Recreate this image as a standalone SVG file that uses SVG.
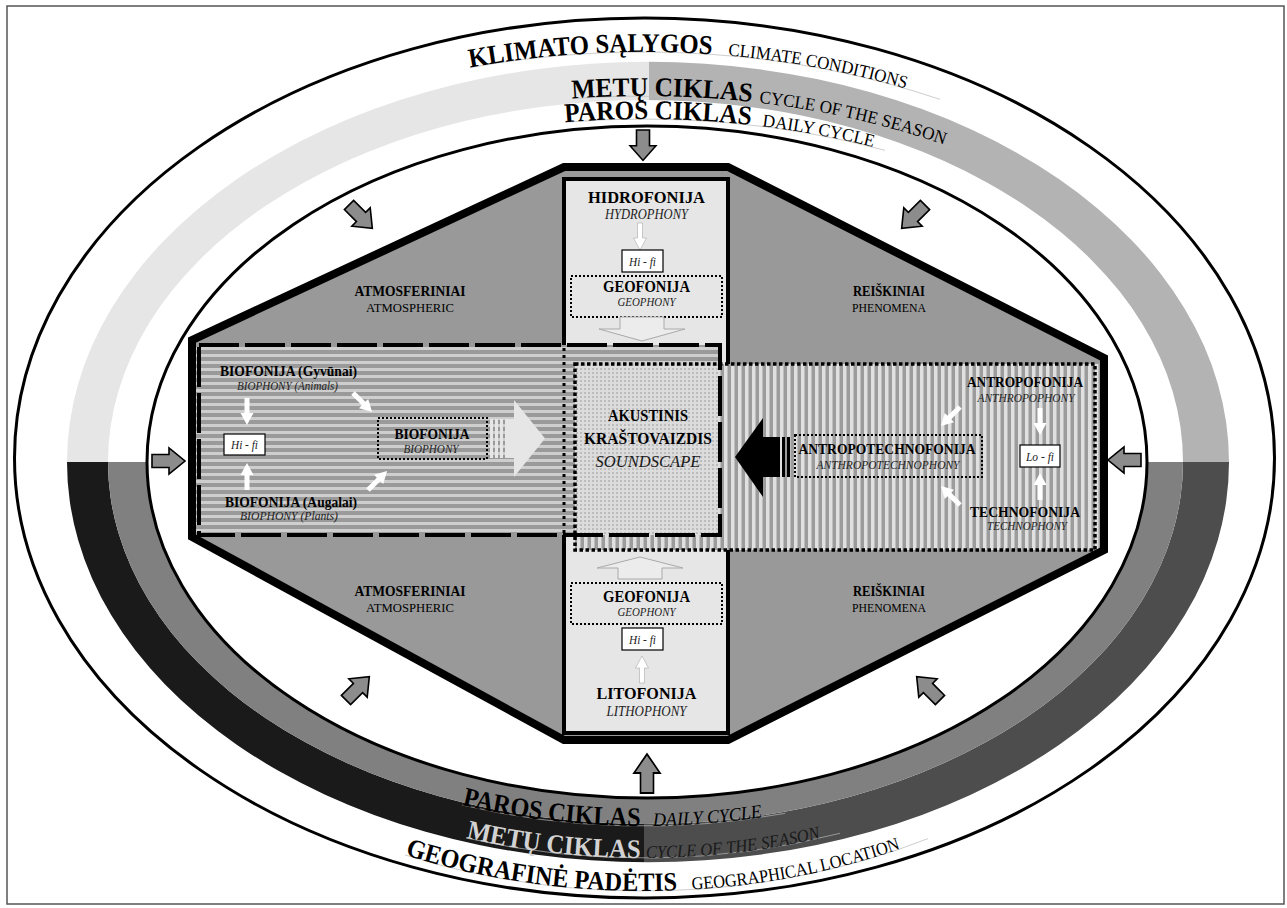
<svg xmlns="http://www.w3.org/2000/svg" width="1287" height="908" viewBox="0 0 1287 908">
<style>
.b{font-family:"Liberation Serif","Times New Roman",serif;font-weight:bold;fill:#000}
.i{font-family:"Liberation Serif","Times New Roman",serif;font-style:italic;fill:#222}
.r{font-family:"Liberation Serif","Times New Roman",serif;fill:#000}
.ga{fill:#8c8c8c;stroke:#000;stroke-width:1.6}
.wa{fill:#fff}
.wo{fill:#fff;stroke:#aaa;stroke-width:0.6}
.box{fill:#fff;stroke:#000;stroke-width:1.2}
.dotbox{fill:none;stroke:#000;stroke-width:2;stroke-dasharray:2 2}
.guide{fill:none;stroke:#b8b8b8;stroke-width:0.7}
</style>
<defs>
<pattern id="hs" width="8" height="7" patternUnits="userSpaceOnUse" y="345"><rect width="8" height="7" fill="#9a9a9a"/><rect width="8" height="3" y="2" fill="#cecece"/></pattern>
<pattern id="vs" width="7" height="8" patternUnits="userSpaceOnUse" x="575"><rect width="7" height="8" fill="#9c9c9c"/><rect width="3.5" height="8" x="2" fill="#e0e0e0"/></pattern>
<pattern id="dots" width="4" height="4" patternUnits="userSpaceOnUse"><rect width="4" height="4" fill="#dcdcdc"/><rect width="2" height="2" fill="#bcbcbc"/></pattern>
<clipPath id="seasonRing"><path clip-rule="evenodd" d="M67,462 A581,400 0 1 0 1229,462 A581,400 0 1 0 67,462 Z M108,462 A537.5,362 0 1 0 1183,462 A537.5,362 0 1 0 108,462 Z"/></clipPath>
<clipPath id="dailyRing"><path clip-rule="evenodd" d="M108,462 A537.5,362 0 1 0 1183,462 A537.5,362 0 1 0 108,462 Z M147,462 A500,336 0 1 0 1147,462 A500,336 0 1 0 147,462 Z"/></clipPath>
<clipPath id="oct"><path d="M564,167 L728,167 L1104,358 L1104,550 L728,740 L564,740 L192,537 L192,340 Z"/></clipPath>
<path id="t1" d="M470,67.6 A635,410 0 0 1 940,99.4"/>
<path id="t2" d="M572,98.6 A603,366 0 0 1 955,148.6"/>
<path id="t3" d="M565,122.2 A579,343 0 0 1 885,150.3"/>
<path id="b1" d="M462,805 A542,364 0 0 0 785,813.4"/>
<path id="b2" d="M466,838 A565,396 0 0 0 840,833.3"/>
<path id="b3" d="M405,854.9 A594,429 0 0 0 928,838.6"/>
<path id="t1a" d="M470,67.6 A635,410 0 0 1 740,56.7"/>
<path id="t1b" d="M728,55.6 A635,410 0 0 1 940,99.4"/>
<path id="t2a" d="M572,98.6 A603,366 0 0 1 780,105.5"/>
<path id="t2b" d="M759,102.8 A603,366 0 0 1 960,150.5"/>
<path id="t3a" d="M565,122.2 A579,343 0 0 1 780,128.7"/>
<path id="t3b" d="M762,126.3 A579,343 0 0 1 895,153.1"/>
<path id="b1a" d="M462,805 A542,364 0 0 0 670,825.6"/>
<path id="b1b" d="M653,825.9 A542,364 0 0 0 790,812.5"/>
<path id="b2a" d="M466,838 A565,396 0 0 0 670,857.6"/>
<path id="b2b" d="M646,858 A565,396 0 0 0 850,830.6"/>
<path id="b3a" d="M405,854.9 A594,429 0 0 0 700,889.1"/>
<path id="b3b" d="M692,889.6 A594,429 0 0 0 930,837.8"/>
<path id="ga" d="M0,-6.5 L17,-6.5 L17,-13 L33,0 L17,13 L17,6.5 L0,6.5 Z"/>
<path id="wa" d="M0,-2.5 L15,-2.5 L15,-6.5 L27,0 L15,6.5 L15,2.5 L0,2.5 Z"/>
</defs>

<rect width="1287" height="908" fill="#fff"/>
<rect x="7" y="6" width="1277" height="898" fill="none" stroke="#555" stroke-width="1.5"/>

<g id="rings">
<ellipse cx="644.5" cy="458" rx="630" ry="440" fill="#fff" stroke="#000" stroke-width="3"/>
<g clip-path="url(#seasonRing)">
<rect x="0" y="0" width="649" height="462" fill="#e6e6e6"/>
<rect x="649" y="0" width="638" height="462" fill="#b3b3b3"/>
<rect x="0" y="462" width="644" height="446" fill="#1a1a1a"/>
<rect x="644" y="462" width="643" height="446" fill="#4d4d4d"/>
</g>
<rect x="0" y="462" width="1287" height="446" fill="#808080" clip-path="url(#dailyRing)"/>
<ellipse cx="647" cy="462" rx="500" ry="336" fill="none" stroke="#000" stroke-width="3"/>
</g>

<g id="arc-labels">
<use href="#t1" class="guide"/>
<use href="#t2" class="guide"/>
<use href="#t3" class="guide"/>
<use href="#b1" class="guide"/>
<use href="#b2" class="guide"/>
<use href="#b3" class="guide"/>
<text class="b" font-size="27"><textPath href="#t1a" textLength="243" lengthAdjust="spacingAndGlyphs">KLIMATO SĄLYGOS</textPath></text>
<text class="r" font-size="18"><textPath href="#t1b" textLength="181" lengthAdjust="spacingAndGlyphs">CLIMATE CONDITIONS</textPath></text>
<text class="b" font-size="27"><textPath href="#t2a" textLength="180" lengthAdjust="spacingAndGlyphs">METŲ CIKLAS</textPath></text>
<text class="r" font-size="18"><textPath href="#t2b" textLength="190" lengthAdjust="spacingAndGlyphs">CYCLE OF THE SEASON</textPath></text>
<text class="b" font-size="27"><textPath href="#t3a" textLength="186" lengthAdjust="spacingAndGlyphs">PAROS CIKLAS</textPath></text>
<text class="r" font-size="18"><textPath href="#t3b" textLength="113" lengthAdjust="spacingAndGlyphs">DAILY CYCLE</textPath></text>
<text class="b" font-size="27"><textPath href="#b1a" textLength="180" lengthAdjust="spacingAndGlyphs">PAROS CIKLAS</textPath></text>
<text class="i" font-size="19" style="fill:#000"><textPath href="#b1b" textLength="110" lengthAdjust="spacingAndGlyphs">DAILY CYCLE</textPath></text>
<text class="b" font-size="27" style="fill:#d2d2d2"><textPath href="#b2a" textLength="176" lengthAdjust="spacingAndGlyphs">METŲ CIKLAS</textPath></text>
<text class="i" font-size="18" style="fill:#1a1a1a"><textPath href="#b2b" textLength="176" lengthAdjust="spacingAndGlyphs">CYCLE OF THE SEASON</textPath></text>
<text class="b" font-size="26.5"><textPath href="#b3a" textLength="276" lengthAdjust="spacingAndGlyphs">GEOGRAFINĖ PADĖTIS</textPath></text>
<text class="r" font-size="18"><textPath href="#b3b" textLength="213" lengthAdjust="spacingAndGlyphs">GEOGRAPHICAL LOCATION</textPath></text>
</g>

<g id="outer-arrows" class="ga">
<use href="#ga" transform="translate(643,130) rotate(90) scale(0.92,1)"/>
<use href="#ga" transform="translate(647,793) rotate(-90) scale(1.18,1)"/>
<use href="#ga" transform="translate(152,461)"/>
<use href="#ga" transform="translate(1141,460) rotate(180)"/>
<use href="#ga" transform="translate(349,205) rotate(45)"/>
<use href="#ga" transform="translate(925,205) rotate(135)"/>
<use href="#ga" transform="translate(346,700) rotate(-45)"/>
<use href="#ga" transform="translate(940,700) rotate(-135)"/>
</g>

<g id="landscape">
<path d="M564,167 L728,167 L1104,358 L1104,550 L728,740 L564,740 L192,537 L192,340 Z" fill="#999"/>
<text class="b" font-size="15" x="410" y="296" text-anchor="middle" textLength="111" lengthAdjust="spacingAndGlyphs">ATMOSFERINIAI</text>
<text class="r" font-size="13.5" x="410" y="312" text-anchor="middle" textLength="88" lengthAdjust="spacingAndGlyphs">ATMOSPHERIC</text>
<text class="b" font-size="15" x="889" y="296" text-anchor="middle" textLength="72" lengthAdjust="spacingAndGlyphs">REIŠKINIAI</text>
<text class="r" font-size="13.5" x="889" y="312" text-anchor="middle" textLength="74" lengthAdjust="spacingAndGlyphs">PHENOMENA</text>
<text class="b" font-size="15" x="410" y="596" text-anchor="middle" textLength="111" lengthAdjust="spacingAndGlyphs">ATMOSFERINIAI</text>
<text class="r" font-size="13.5" x="410" y="612" text-anchor="middle" textLength="88" lengthAdjust="spacingAndGlyphs">ATMOSPHERIC</text>
<text class="b" font-size="15" x="889" y="596" text-anchor="middle" textLength="72" lengthAdjust="spacingAndGlyphs">REIŠKINIAI</text>
<text class="r" font-size="13.5" x="889" y="612" text-anchor="middle" textLength="74" lengthAdjust="spacingAndGlyphs">PHENOMENA</text>
</g>

<g id="geophony-column">
<rect x="564" y="179" width="164" height="554" fill="#e6e6e6" stroke="#000" stroke-width="4"/>
<text class="b" font-size="17.5" x="646.5" y="203" text-anchor="middle" textLength="117" lengthAdjust="spacingAndGlyphs">HIDROFONIJA</text>
<text class="i" font-size="14" x="646.5" y="219" text-anchor="middle" textLength="83" lengthAdjust="spacingAndGlyphs">HYDROPHONY</text>
<use href="#wa" class="wo" transform="translate(640,223) rotate(90)"/>
<rect class="box" x="622" y="250" width="41" height="22"/>
<text class="i" font-size="13" x="642.5" y="265.5" text-anchor="middle" textLength="27" lengthAdjust="spacingAndGlyphs">Hi - fi</text>
<rect class="dotbox" x="571" y="276" width="151" height="41"/>
<text class="b" font-size="16" x="646.5" y="292" text-anchor="middle" textLength="87" lengthAdjust="spacingAndGlyphs">GEOFONIJA</text>
<text class="i" font-size="12.5" x="646.5" y="306" text-anchor="middle" textLength="58" lengthAdjust="spacingAndGlyphs">GEOPHONY</text>
<polygon points="620,317 664,317 664,329 685,329 642,341 599,329 620,329" fill="#ececec" stroke="#aaa" stroke-width="1"/>
<polygon points="618,579 662,579 662,568 683,568 640,557 597,568 618,568" fill="#ececec" stroke="#aaa" stroke-width="1"/>
<rect class="dotbox" x="571" y="583" width="151" height="41"/>
<text class="b" font-size="16" x="646.5" y="602" text-anchor="middle" textLength="87" lengthAdjust="spacingAndGlyphs">GEOFONIJA</text>
<text class="i" font-size="12.5" x="646.5" y="616" text-anchor="middle" textLength="58" lengthAdjust="spacingAndGlyphs">GEOPHONY</text>
<rect class="box" x="622" y="628" width="41" height="22"/>
<text class="i" font-size="13" x="642.5" y="643.5" text-anchor="middle" textLength="27" lengthAdjust="spacingAndGlyphs">Hi - fi</text>
<use href="#wa" class="wo" transform="translate(642,683) rotate(-90)"/>
<text class="b" font-size="17.5" x="646.5" y="699" text-anchor="middle" textLength="100" lengthAdjust="spacingAndGlyphs">LITOFONIJA</text>
<text class="i" font-size="14" x="646.5" y="716" text-anchor="middle" textLength="80" lengthAdjust="spacingAndGlyphs">LITHOPHONY</text>
</g>

<g id="biophony-band">
<rect x="190" y="345" width="530" height="190" fill="url(#hs)" clip-path="url(#oct)"/>
</g>
<g id="anthropophony-band">
<rect x="575" y="364" width="535" height="186" fill="url(#vs)" clip-path="url(#oct)"/>
</g>
<g id="soundscape">
<rect x="575" y="364" width="145" height="171" fill="url(#dots)"/>
<text class="b" font-size="17" x="648" y="421" text-anchor="middle" textLength="80" lengthAdjust="spacingAndGlyphs">AKUSTINIS</text>
<text class="b" font-size="17" x="648" y="444" text-anchor="middle" textLength="128" lengthAdjust="spacingAndGlyphs">KRAŠTOVAIZDIS</text>
<text class="i" font-size="17.5" x="648" y="467" text-anchor="middle" textLength="105" lengthAdjust="spacingAndGlyphs" style="fill:#1a1a1a">SOUNDSCAPE</text>
</g>
<g id="band-borders">
<line x1="564" y1="348" x2="564" y2="533" stroke="#000" stroke-width="3" stroke-dasharray="3 4"/>
<path d="M199,345 H720 V535 H199 Z" fill="none" stroke="#000" stroke-width="4" stroke-dasharray="40 6"/>
<path d="M575,364 H1095 V550 H575 Z" fill="none" stroke="#000" stroke-width="3.5" stroke-dasharray="3.5 2.5"/>
</g>

<g id="biophony-nodes">
<text class="b" font-size="15" x="288.5" y="376" text-anchor="middle" textLength="137" lengthAdjust="spacingAndGlyphs">BIOFONIJA (Gyvūnai)</text>
<text class="i" font-size="12" x="287.5" y="390" text-anchor="middle" textLength="101" lengthAdjust="spacingAndGlyphs">BIOPHONY (Animals)</text>
<rect class="box" x="224" y="434" width="41" height="21"/>
<text class="i" font-size="13" x="244.5" y="449" text-anchor="middle" textLength="27" lengthAdjust="spacingAndGlyphs">Hi - fi</text>
<text class="b" font-size="15" x="291" y="507" text-anchor="middle" textLength="132" lengthAdjust="spacingAndGlyphs">BIOFONIJA (Augalai)</text>
<text class="i" font-size="12" x="289" y="520" text-anchor="middle" textLength="98" lengthAdjust="spacingAndGlyphs">BIOPHONY (Plants)</text>
<rect class="dotbox" x="378" y="418" width="109" height="41"/>
<text class="b" font-size="15" x="432" y="439" text-anchor="middle" textLength="75" lengthAdjust="spacingAndGlyphs">BIOFONIJA</text>
<text class="i" font-size="12" x="431" y="453" text-anchor="middle" textLength="55" lengthAdjust="spacingAndGlyphs">BIOPHONY</text>
<g fill="#e6e6e6">
<rect x="490" y="419" width="3" height="39"/>
<rect x="495" y="419" width="3" height="39"/>
<rect x="500" y="419" width="3" height="39"/>
<polygon points="505,419 514,419 514,400 545,438.5 514,477 514,458 505,458"/>
</g>
</g>

<g id="anthropophony-nodes">
<text class="b" font-size="15" x="1025" y="387" text-anchor="middle" textLength="116" lengthAdjust="spacingAndGlyphs">ANTROPOFONIJA</text>
<text class="i" font-size="12.5" x="1026" y="402" text-anchor="middle" textLength="97" lengthAdjust="spacingAndGlyphs">ANTHROPOPHONY</text>
<rect class="box" x="1020" y="445" width="40" height="22"/>
<text class="i" font-size="13" x="1040" y="460.5" text-anchor="middle" textLength="28" lengthAdjust="spacingAndGlyphs">Lo - fi</text>
<text class="b" font-size="15" x="1025" y="517" text-anchor="middle" textLength="110" lengthAdjust="spacingAndGlyphs">TECHNOFONIJA</text>
<text class="i" font-size="12.5" x="1027" y="530" text-anchor="middle" textLength="80" lengthAdjust="spacingAndGlyphs">TECHNOPHONY</text>
<rect class="dotbox" x="795" y="435" width="187" height="42"/>
<text class="b" font-size="15" x="887" y="454" text-anchor="middle" textLength="177" lengthAdjust="spacingAndGlyphs">ANTROPOTECHNOFONIJA</text>
<text class="i" font-size="12.5" x="888" y="469" text-anchor="middle" textLength="143" lengthAdjust="spacingAndGlyphs">ANTHROPOTECHNOPHONY</text>
<g fill="#000">
<polygon points="780,437 763,437 763,418 735,457 763,497 763,477 780,477"/>
<rect x="782" y="437" width="3" height="40"/>
<rect x="787" y="437" width="3" height="40"/>
</g>
</g>

<g id="connectors" class="wa">
<use href="#wa" transform="translate(247,398) rotate(90)"/>
<use href="#wa" transform="translate(247,490) rotate(-90)"/>
<use href="#wa" transform="translate(353,393) rotate(45)"/>
<use href="#wa" transform="translate(368,490) rotate(-45)"/>
<use href="#wa" transform="translate(1040,408) rotate(90)"/>
<use href="#wa" transform="translate(1040,500) rotate(-90)"/>
<use href="#wa" transform="translate(960,407) rotate(135)"/>
<use href="#wa" transform="translate(960,505) rotate(-135)"/>
</g>

<path d="M564,167 L728,167 L1104,358 L1104,550 L728,740 L564,740 L192,537 L192,340 Z" fill="none" stroke="#000" stroke-width="8"/>
</svg>
